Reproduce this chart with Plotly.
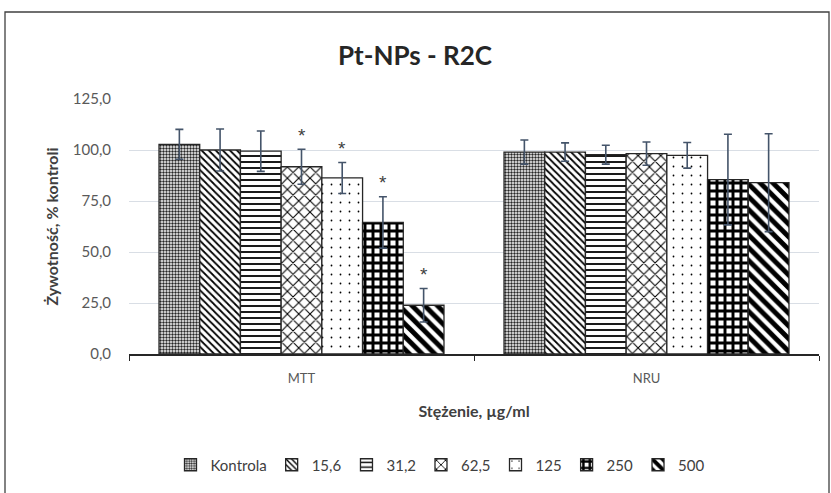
import plotly.graph_objects as go

categories = ["MTT", "NRU"]
series_names = ["Kontrola", "15,6", "31,2", "62,5", "125", "250", "500"]
mtt_values = [102.8, 100.0, 99.4, 91.8, 86.3, 64.5, 23.9]
mtt_errors = [7.3, 10.3, 9.9, 8.6, 7.6, 12.6, 8.2]
nru_values = [99.0, 99.0, 97.7, 98.2, 97.4, 85.5, 84.0]
nru_errors = [5.9, 4.5, 4.6, 5.7, 6.3, 22.2, 24.0]
mtt_significant = [False, False, False, True, True, True, True]
nru_significant = [False, False, False, False, False, False, False]
y_ticks = [0, 25, 50, 75, 100, 125]
y_tick_labels = ["0,0", "25,0", "50,0", "75,0", "100,0", "125,0"]

patterns = [
    dict(shape=".", size=3, solidity=0.5, fgcolor="#262626", bgcolor="#ffffff", fgopacity=1),
    dict(shape="\\", size=5, solidity=0.35, fgcolor="#000000", bgcolor="#ffffff", fgopacity=1),
    dict(shape="-", size=6, solidity=0.3, fgcolor="#000000", bgcolor="#ffffff", fgopacity=1),
    dict(shape="x", size=8, solidity=0.25, fgcolor="#000000", bgcolor="#ffffff", fgopacity=1),
    dict(shape=".", size=9, solidity=0.03, fgcolor="#000000", bgcolor="#ffffff", fgopacity=1),
    dict(shape="+", size=8, solidity=0.6, fgcolor="#000000", bgcolor="#ffffff", fgopacity=1),
    dict(shape="\\", size=9, solidity=0.55, fgcolor="#000000", bgcolor="#ffffff", fgopacity=1),
]

FONT = "Lato, 'Open Sans', sans-serif"
fig = go.Figure()
for i, name in enumerate(series_names):
    fig.add_trace(go.Bar(
        name=name,
        x=categories,
        y=[mtt_values[i], nru_values[i]],
        error_y=dict(type="data", array=[mtt_errors[i], nru_errors[i]],
                     color="#44546A", thickness=1.6, width=4),
        marker=dict(color="#ffffff", pattern=patterns[i],
                    line=dict(color="#262626", width=1.3)),
    ))

L, R, T, B = 129, 12, 99, 139
W, H = 831, 493
plot_w = W - L - R
ph = H - T - B
bargap = 0.174
bar_px = plot_w / len(categories) * (1 - bargap) / len(series_names)

annotations = []
for ci, (vals, errs, sig) in enumerate([(mtt_values, mtt_errors, mtt_significant),
                                        (nru_values, nru_errors, nru_significant)]):
    for i in range(len(series_names)):
        if sig[i]:
            annotations.append(dict(
                x=categories[ci], y=vals[i] + errs[i], text="*", showarrow=False,
                xshift=(i - (len(series_names) - 1) / 2) * bar_px, yshift=14,
                font=dict(size=19, color="#404040", family="'Liberation Sans', sans-serif")))

annotations.append(dict(
    text="<b>Pt-NPs - R2C</b>", xref="paper", yref="paper",
    x=(415 - L) / plot_w, y=1 + (99 - 55) / ph, xanchor="center", yanchor="middle",
    showarrow=False, font=dict(size=26, color="#262626", family=FONT)))

fig.update_layout(
    width=W, height=H,
    margin=dict(l=L, r=R, t=T, b=B),
    barmode="group", bargap=bargap, bargroupgap=0,
    plot_bgcolor="#ffffff", paper_bgcolor="#ffffff",
    font=dict(family=FONT, size=13, color="#595959"),
    showlegend=True,
    legend=dict(orientation="h", x=(440 - L) / plot_w, xanchor="center",
                y=(354 - 465) / ph, yanchor="middle",
                font=dict(size=15, color="#404040", family=FONT),
                itemwidth=30, tracegroupgap=0, bgcolor="rgba(0,0,0,0)"),
    annotations=annotations,
    shapes=[dict(type="rect", xref="paper", yref="paper",
                 x0=(5 - L) / plot_w, x1=(829 - L) / plot_w,
                 y0=(354 - 500) / ph, y1=(354 - 12) / ph,
                 line=dict(color="#404040", width=1.3), fillcolor="rgba(0,0,0,0)",
                 layer="below")],
)
fig.update_xaxes(
    showline=True, linecolor="#262626", linewidth=1.5,
    ticks="outside", tickson="boundaries", ticklen=5, tickcolor="#262626",
    ticklabelstandoff=12,
    tickfont=dict(size=13, color="#595959"),
    title=dict(text="<b>Stężenie, µg/ml</b>", standoff=20,
               font=dict(size=16, color="#404040", family=FONT)),
)
fig.update_yaxes(
    range=[0, 125], tickvals=y_ticks, ticktext=y_tick_labels,
    showgrid=True, gridcolor="#D9DEE5", gridwidth=1.3, zeroline=False,
    showline=False, ticks="", ticklabelstandoff=17,
    tickfont=dict(size=15, color="#595959"),
    title=dict(text="<b>Żywotność, % kontroli</b>", standoff=10,
               font=dict(size=16, color="#404040", family=FONT)),
)
fig.write_html("out.html")
